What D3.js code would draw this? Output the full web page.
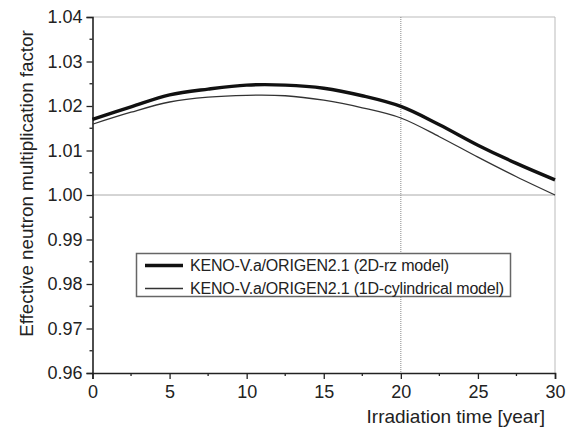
<!DOCTYPE html>
<html>
<head>
<meta charset="utf-8">
<script src="https://cdn.jsdelivr.net/npm/d3@7"></script>
<style>
  body { margin: 0; background: #fff; }
  text { font-family: "Liberation Sans", Arial, sans-serif; fill: #222; }
</style>
</head>
<body>
<div id="chart"></div>
<script>
// --- data ---
const years = [0, 2.5, 5, 7.5, 10, 12.5, 15, 17.5, 20, 22.5, 25, 27.5, 30];
const keffRz = [1.0170, 1.0198, 1.0225, 1.0238, 1.0247, 1.0247, 1.0240, 1.0223, 1.0199, 1.0158, 1.0112, 1.0071, 1.0034];
const keffCyl = [1.0159, 1.0186, 1.0209, 1.0220, 1.0224, 1.0223, 1.0213, 1.0196, 1.0173, 1.0131, 1.0085, 1.0041, 1.0000];
const xTicks = [0, 5, 10, 15, 20, 25, 30];
const yTicks = [0.96, 0.97, 0.98, 0.99, 1.00, 1.01, 1.02, 1.03, 1.04];
const seriesNames = ["KENO-V.a/ORIGEN2.1 (2D-rz model)", "KENO-V.a/ORIGEN2.1 (1D-cylindrical model)"];

const width = 572, height = 428;
const margin = { top: 17, right: 17, bottom: 55, left: 92.5 };

const svg = d3.select("#chart").append("svg")
    .attr("width", width)
    .attr("height", height);

const x = d3.scaleLinear().domain([0, 30]).range([margin.left, width - margin.right]);
const y = d3.scaleLinear().domain([0.96, 1.04]).range([height - margin.bottom, margin.top]);

// frame (top / right)
svg.append("path")
    .attr("d", `M${x(0)},${y(1.04)}H${x(30)}V${y(0.96)}`)
    .attr("fill", "none")
    .attr("stroke", "#bbb")
    .attr("stroke-width", 1);

// reference lines
svg.append("line")
    .attr("x1", x(0)).attr("x2", x(30))
    .attr("y1", y(1.0)).attr("y2", y(1.0))
    .attr("stroke", "#555").attr("stroke-width", 1)
    .attr("stroke-dasharray", "1,1");
svg.append("line")
    .attr("x1", x(20)).attr("x2", x(20))
    .attr("y1", y(1.04)).attr("y2", y(0.96))
    .attr("stroke", "#888").attr("stroke-width", 1)
    .attr("stroke-dasharray", "1,1");

// axes
const xAxis = svg.append("g")
    .attr("transform", `translate(0,${y(0.96)})`)
    .call(d3.axisBottom(x).tickValues(xTicks).tickFormat(d3.format("d")).tickSize(6).tickPadding(6));
const yAxis = svg.append("g")
    .attr("transform", `translate(${x(0)},0)`)
    .call(d3.axisLeft(y).tickValues(yTicks).tickFormat(d3.format(".2f")).tickSize(6).tickPadding(4));

[xAxis, yAxis].forEach(g => {
    g.select(".domain").attr("stroke", "#222").attr("stroke-width", 1.6);
    g.selectAll(".tick line").attr("stroke", "#222").attr("stroke-width", 1.3);
    g.selectAll(".tick text").attr("font-size", 18).attr("fill", "#222")
        .style("font-family", "'Liberation Sans', Arial, sans-serif");
});

// minor ticks
svg.append("g").selectAll("line")
    .data(d3.range(2.5, 30, 5))
    .join("line")
    .attr("x1", d => x(d)).attr("x2", d => x(d))
    .attr("y1", y(0.96)).attr("y2", y(0.96) + 3)
    .attr("stroke", "#222").attr("stroke-width", 1.3);
svg.append("g").selectAll("line")
    .data(d3.range(0.965, 1.04, 0.01))
    .join("line")
    .attr("x1", x(0) - 3).attr("x2", x(0))
    .attr("y1", d => y(d)).attr("y2", d => y(d))
    .attr("stroke", "#222").attr("stroke-width", 1.3);

// curves
const line = d3.line()
    .x(d => x(d[0]))
    .y(d => y(d[1]))
    .curve(d3.curveCatmullRom);

svg.append("path")
    .datum(years.map((t, i) => [t, keffCyl[i]]))
    .attr("d", line)
    .attr("fill", "none")
    .attr("stroke", "#333")
    .attr("stroke-width", 1.3);

svg.append("path")
    .datum(years.map((t, i) => [t, keffRz[i]]))
    .attr("d", line)
    .attr("fill", "none")
    .attr("stroke", "#111")
    .attr("stroke-width", 3.4);

// legend
const legend = svg.append("g");
legend.append("rect")
    .attr("x", 136.5).attr("y", 253.5)
    .attr("width", 374).attr("height", 43)
    .attr("fill", "#fff")
    .attr("stroke", "#666")
    .attr("stroke-width", 1.5);

const legendRows = legend.selectAll("g")
    .data(seriesNames)
    .join("g")
    .attr("transform", (d, i) => `translate(145,${265.5 + i * 23})`);
legendRows.append("line")
    .attr("x1", 0).attr("x2", 38)
    .attr("stroke", (d, i) => i === 0 ? "#111" : "#333")
    .attr("stroke-width", (d, i) => i === 0 ? 3.4 : 1.3);
legendRows.append("text")
    .attr("x", 45)
    .attr("dy", "0.35em")
    .attr("font-size", 16)
    .attr("letter-spacing", -0.2)
    .text(d => d);

// axis titles
svg.append("text")
    .attr("x", 545)
    .attr("y", 423)
    .attr("text-anchor", "end")
    .attr("font-size", 19)
    .text("Irradiation time [year]");

svg.append("text")
    .attr("transform", `translate(32.5,183.5) rotate(-90)`)
    .attr("text-anchor", "middle")
    .attr("font-size", 18.8)
    .text("Effective neutron multiplication factor");
</script>
</body>
</html>
